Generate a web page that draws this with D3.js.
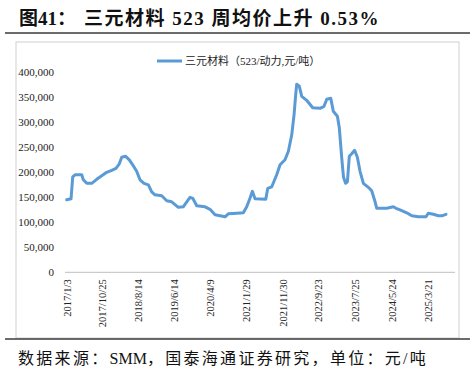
<!DOCTYPE html>
<html>
<head>
<meta charset="utf-8">
<script src="https://cdn.jsdelivr.net/npm/d3@7"></script>
<style>
  body { margin: 0; background: #fff; }
  svg { display: block; }
</style>
</head>
<body>
<div id="chart"></div>
<script>
// weekly price, 三元材料 523 (元/吨)
const dates = [
  "2017/1/3", "2017/2/8", "2017/2/22", "2017/3/13", "2017/5/8", "2017/5/21", "2017/6/18", "2017/7/30",
  "2017/9/9", "2017/10/21", "2017/12/1", "2018/1/12", "2018/2/16", "2018/3/16", "2018/4/5", "2018/5/8",
  "2018/6/7", "2018/7/5", "2018/8/7", "2018/9/4", "2018/10/7", "2018/11/12", "2018/12/10", "2019/1/6",
  "2019/3/3", "2019/4/14", "2019/5/25", "2019/7/19", "2019/8/29", "2019/9/27", "2019/10/24", "2019/11/16",
  "2019/12/19", "2020/2/26", "2020/4/7", "2020/5/19", "2020/8/10", "2020/9/6", "2020/11/15", "2021/1/9",
  "2021/2/6", "2021/3/5", "2021/3/25", "2021/4/16", "2021/7/14", "2021/7/31", "2021/9/2", "2021/10/13",
  "2021/11/10", "2021/12/21", "2022/1/18", "2022/2/15", "2022/3/6", "2022/3/20", "2022/3/28", "2022/4/19",
  "2022/5/9", "2022/6/19", "2022/8/8", "2022/10/8", "2022/11/10", "2022/12/3", "2023/1/5", "2023/1/26",
  "2023/3/1", "2023/3/17", "2023/4/6", "2023/4/21", "2023/5/8", "2023/5/23", "2023/6/8", "2023/6/28",
  "2023/7/22", "2023/8/14", "2023/9/5", "2023/10/3", "2023/11/13", "2023/12/11", "2024/1/8", "2024/1/22",
  "2024/4/14", "2024/6/8", "2024/6/30", "2024/8/2", "2024/9/27", "2024/11/8", "2025/1/1", "2025/3/6",
  "2025/3/25", "2025/5/6", "2025/6/17", "2025/7/15", "2025/8/19"
];
const prices = [
  145000, 147000, 191000, 195000, 195000, 185000, 178000, 178000,
  186000, 193000, 200000, 204000, 208000, 217000, 230000, 232000,
  225000, 215000, 202000, 185000, 178000, 175000, 161000, 155000,
  153000, 143000, 141000, 130000, 131000, 141000, 150000, 148000,
  133000, 131000, 126000, 115000, 111000, 117000, 118000, 119000,
  131000, 148000, 162000, 147000, 146000, 168000, 171000, 195000,
  215000, 225000, 242000, 275000, 315000, 356000, 376000, 372000,
  352000, 344000, 329000, 328000, 332000, 346000, 348000, 322000,
  312000, 289000, 229000, 190000, 178000, 181000, 232000, 237000,
  244000, 230000, 202000, 178000, 170000, 163000, 141000, 128000,
  128000, 131000, 128000, 125000, 119000, 113000, 111000, 111000,
  118000, 116000, 113000, 113000, 116000
];
const xTickLabels = ["2017/1/3", "2017/10/25", "2018/8/14", "2019/6/14", "2020/4/9", "2021/1/29",
  "2021/11/30", "2022/9/23", "2023/7/25", "2024/5/24", "2025/3/21"];
const yTicks = [0, 50000, 100000, 150000, 200000, 250000, 300000, 350000, 400000];
const seriesName = "三元材料（523/动力,元/吨）";

const W = 475, H = 376;
const parse = d3.timeParse("%Y/%-m/%-d");
const data = dates.map((d, i) => ({ date: parse(d), value: prices[i] }));

const svg = d3.select("#chart").append("svg")
  .attr("width", W).attr("height", H);

const serif = "'Liberation Serif', 'Times New Roman', 'Noto Sans CJK SC', serif";

// title
const title = svg.append("text")
  .attr("x", 19).attr("y", 25)
  .attr("font-family", serif)
  .attr("font-weight", "bold")
  .attr("font-size", 19)
  .attr("fill", "#111");
title.append("tspan").text("图41：");
title.append("tspan").attr("dx", 8).attr("letter-spacing", 1.5).text("三元材料 523 周均价上升 0.53%");

svg.append("line")
  .attr("x1", 5).attr("x2", 470).attr("y1", 33).attr("y2", 33)
  .attr("stroke", "#3a3a3a").attr("stroke-width", 1.5);

// chart frame
svg.append("rect")
  .attr("x", 16).attr("y", 42).attr("width", 443).attr("height", 296)
  .attr("fill", "none").attr("stroke", "#d0d0d0").attr("stroke-width", 1);

svg.append("line")
  .attr("x1", 5).attr("x2", 470).attr("y1", 339).attr("y2", 339)
  .attr("stroke", "#3a3a3a").attr("stroke-width", 1.5);

const scaleX = d3.scaleTime()
  .domain(d3.extent(data, d => d.date))
  .range([66.7, 446]);

const scaleY = d3.scaleLinear()
  .domain([0, 400000])
  .range([272.3, 72.3]);

// y axis labels only
const axisY = d3.axisLeft(scaleY)
  .tickValues(yTicks)
  .tickSize(0)
  .tickPadding(0)
  .tickFormat(d3.format(","));

svg.append("g")
  .attr("transform", "translate(54,0)")
  .call(axisY)
  .call(g => g.select(".domain").remove())
  .selectAll("text")
  .attr("font-family", serif)
  .attr("font-size", 11)
  .attr("fill", "#222");

// x axis
const axisX = d3.axisBottom(scaleX)
  .tickValues(xTickLabels.map(parse))
  .tickSize(0)
  .tickPadding(0)
  .tickFormat(d3.timeFormat("%Y/%-m/%-d"));

const gx = svg.append("g")
  .attr("transform", "translate(0,272.3)")
  .call(axisX);

gx.select(".domain")
  .attr("d", "M65,0H455")
  .attr("stroke", "#bfbfbf");

gx.selectAll("text")
  .attr("font-family", serif)
  .attr("font-size", 10.5)
  .attr("fill", "#222")
  .attr("text-anchor", "end")
  .attr("dy", "0.35em")
  .attr("transform", "translate(0,7) rotate(-90)")
  .attr("y", 0).attr("x", 0);

// the line
const line = d3.line()
  .x(d => scaleX(d.date))
  .y(d => scaleY(d.value));

svg.append("path")
  .datum(data)
  .attr("fill", "none")
  .attr("stroke", "#5b9bd5")
  .attr("stroke-width", 3)
  .attr("stroke-linejoin", "round")
  .attr("stroke-linecap", "round")
  .attr("d", line);

// legend
svg.append("line")
  .attr("x1", 157).attr("x2", 182).attr("y1", 61).attr("y2", 61)
  .attr("stroke", "#5b9bd5").attr("stroke-width", 3);

svg.append("text")
  .attr("x", 185).attr("y", 65)
  .attr("font-family", serif)
  .attr("font-size", 11)
  .attr("fill", "#222")
  .text(seriesName);

// source
const src = svg.append("text")
  .attr("x", 18).attr("y", 364)
  .attr("font-family", serif)
  .attr("font-size", 16)
  .attr("fill", "#111");
src.append("tspan").attr("letter-spacing", 2.3).text("数据来源：");
src.append("tspan").text("SMM");
src.append("tspan").attr("letter-spacing", 2.3).text("，国泰海通证券研究，单位：元/吨");
</script>
</body>
</html>
